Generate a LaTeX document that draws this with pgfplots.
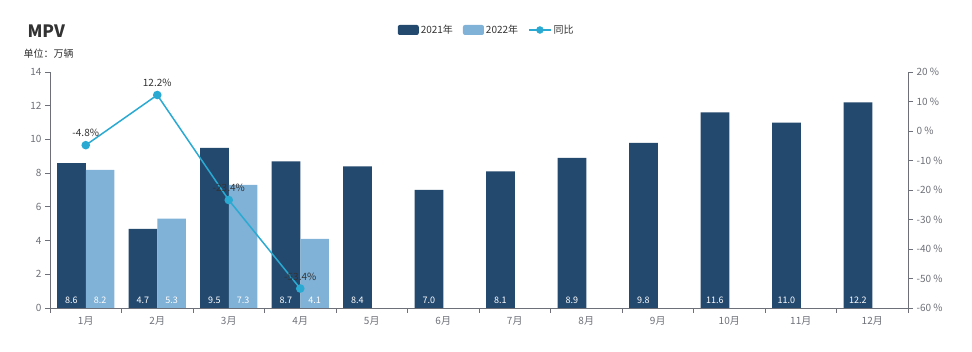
\documentclass[border=0pt]{standalone}
\usepackage{fontspec}
\setmainfont{Noto Sans CJK SC}
\usepackage{pgfplots}
\usepackage{pgfplotstable}
\pgfplotsset{compat=1.18}
\definecolor{cA}{HTML}{23496F}
\definecolor{cB}{HTML}{80B1D6}
\definecolor{cL}{HTML}{2AAAD2}
\definecolor{axg}{HTML}{6E7079}
\definecolor{txt}{HTML}{333333}

\pgfplotstableread{
x y lab
0 8.6 8.6
1 4.7 4.7
2 9.5 9.5
3 8.7 8.7
4 8.4 8.4
5 7.0 7.0
6 8.1 8.1
7 8.9 8.9
8 9.8 9.8
9 11.6 11.6
10 11.0 11.0
11 12.2 12.2
}\dataA
\pgfplotstableread{
x y lab
0 8.2 8.2
1 5.3 5.3
2 7.3 7.3
3 4.1 4.1
}\dataB
\pgfplotstableread{
x y lab
0 -4.8 -4.8
1 12.2 12.2
2 -23.4 -23.4
3 -53.4 -53.4
}\dataC

\pgfplotsset{
  common/.style={
    at={(0,0)}, anchor=south west,
    scale only axis, width=858pt, height=236pt,
    xmin=-0.5, xmax=11.5,
    clip=false,
    axis line style={draw=axg, line width=0.8pt, -},
    tick align=outside,
    major tick length=5pt, minor tick length=5pt,
    tick style={draw=axg, line width=0.8pt},
    ticklabel style={text=axg, font=\fontsize{10}{12}\selectfont},
    /pgf/number format/assume math mode=true,
  },
  legA/.style={legend image code/.code={\fill[cA, rounded corners=2pt] (0pt,-5pt) rectangle (21pt,5pt);}},
  legB/.style={legend image code/.code={\fill[cB, rounded corners=2pt] (0pt,-5pt) rectangle (21pt,5pt);}},
  legL/.style={legend image code/.code={\draw[cL, line width=1.5pt] (0pt,0pt) -- (22pt,0pt); \fill[cL] (11pt,0pt) circle (3.5pt);}},
}

\begin{document}
\begin{tikzpicture}[font=\fontsize{10}{12}\selectfont]
\useasboundingbox (-50pt,-44pt) rectangle (922pt,308pt);
\begin{axis}[common,
  ymin=0, ymax=14,
  axis x line*=bottom, axis y line*=left,
  ytick={0,2,...,14},
  xtick={0,...,11},
  xticklabels={1月,2月,3月,4月,5月,6月,7月,8月,9月,10月,11月,12月},
  major x tick style={draw=none},
  minor xtick={-0.5,0.5,...,11.5},
  legend style={at={(0.509,1.178)}, anchor=center, draw=none, fill=none,
    font=\fontsize{10}{12}\selectfont, text=txt,
    /tikz/every even column/.append style={column sep=8pt}},
  legend columns=3,
  legend cell align=left,
]
\addplot[ybar, bar width=0.4, bar shift=-0.2, fill=cA, draw=none, legA]
  table[x=x, y=y]{\dataA};
\addlegendentry{2021年}
\addplot[ybar, bar width=0.4, bar shift=0.2, fill=cB, draw=none, legB]
  table[x=x, y=y]{\dataB};
\addlegendentry{2022年}
\addlegendimage{legL}
\addlegendentry{同比}
\addplot[draw=none, forget plot, nodes near coords, point meta=explicit symbolic,
  every node near coord/.append style={anchor=south, text=white, yshift=1pt, font=\fontsize{9}{11}\selectfont}]
  table[x expr=\thisrow{x}-0.2, y expr=0, meta=lab]{\dataA};
\addplot[draw=none, forget plot, nodes near coords, point meta=explicit symbolic,
  every node near coord/.append style={anchor=south, text=white, yshift=1pt, font=\fontsize{9}{11}\selectfont}]
  table[x expr=\thisrow{x}+0.2, y expr=0, meta=lab]{\dataB};
\end{axis}
\begin{axis}[common,
  ymin=-60, ymax=20,
  axis x line=none, axis y line*=right,
  ytick={-60,-50,...,20},
  yticklabel={\pgfmathprintnumber{\tick}~\%},
]
\addplot[cL, line width=1.5pt, mark=*, mark size=3.5pt, mark options={fill=cL, draw=cL},
  nodes near coords={\pgfplotspointmeta\%}, point meta=explicit symbolic,
  every node near coord/.append style={text=txt, anchor=south, yshift=4pt, font=\fontsize{10}{12}\selectfont}]
  table[x=x, y=y, meta=lab]{\dataC};
\end{axis}
\node[anchor=west, font=\fontsize{17}{20}\selectfont\bfseries, text=txt] at (-26pt,277pt) {MPV};
\node[anchor=west, font=\fontsize{10}{12}\selectfont, text=txt] at (-30pt,254pt) {单位：万辆};
\end{tikzpicture}
\end{document}
